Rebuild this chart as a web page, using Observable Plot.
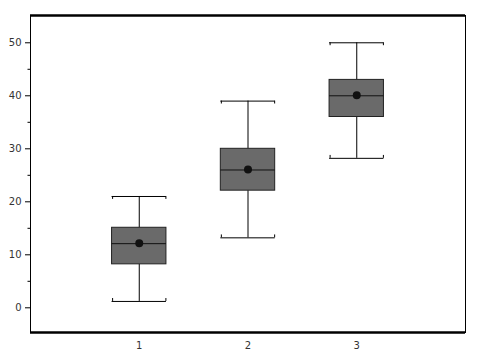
<!DOCTYPE html>
<html><head><meta charset="utf-8">
<script src="https://cdn.jsdelivr.net/npm/d3@7"></script>
<script src="https://cdn.jsdelivr.net/npm/@observablehq/plot@0.6"></script>
<style>body{margin:0;background:#fff}</style>
</head><body><div id="chart"></div>
<script>
const groups = [1, 2, 3];
const lows = [1.2, 13.2, 28.2];
const q1s = [8.2, 22.1, 36.0];
const medians = [12.1, 26.0, 40.0];
const q3s = [15.1, 30.0, 43.0];
const highs = [21.0, 39.0, 50.0];
const means = [12.2, 26.1, 40.1];
const yTicks = [0, 10, 20, 30, 40, 50];
const yMinor = [5, 15, 25, 35, 45];

const data = groups.map((g, i) => ({g, low: lows[i], q1: q1s[i], med: medians[i], q3: q3s[i], high: highs[i], mean: means[i]}));
const hw = 0.25;
const yDom = [-4.66, 55.15];
const serif = 0.55;

const chart = Plot.plot({
  width: 478, height: 359,
  marginLeft: 30, marginRight: 13, marginTop: 15, marginBottom: 27,
  style: {fontFamily: "'DejaVu Sans', sans-serif", fontSize: "10px", color: "#333", background: "#fff"},
  x: {domain: [0, 4], ticks: groups, tickSize: 0, tickPadding: 9, label: null, tickFormat: d3.format("d")},
  y: {domain: yDom, label: null},
  marks: [
    Plot.axisY(yTicks, {tickSize: 5, tickPadding: 4, stroke: "#000", fill: "#333", tickFormat: d3.format("d")}),
    Plot.axisY(yMinor, {tickSize: 2.5, text: null, stroke: "#000", label: null}),
    Plot.axisX(groups, {tickSize: 0, tickPadding: 9, fill: "#333"}),
    Plot.ruleX(data, {x: "g", y1: "low", y2: "q1", stroke: "#000"}),
    Plot.ruleX(data, {x: "g", y1: "q3", y2: "high", stroke: "#000"}),
    Plot.ruleY(data, {y: "high", x1: d => d.g - hw, x2: d => d.g + hw, stroke: "#000"}),
    Plot.ruleY(data, {y: "low", x1: d => d.g - hw, x2: d => d.g + hw, stroke: "#000"}),
    Plot.ruleX(data, {x: d => d.g - hw + 0.005, y1: "high", y2: d => d.high - serif, stroke: "#000"}),
    Plot.ruleX(data, {x: d => d.g + hw - 0.005, y1: "high", y2: d => d.high - serif, stroke: "#000"}),
    Plot.ruleX(data, {x: d => d.g - hw + 0.005, y1: "low", y2: d => d.low + serif, stroke: "#000"}),
    Plot.ruleX(data, {x: d => d.g + hw - 0.005, y1: "low", y2: d => d.low + serif, stroke: "#000"}),
    Plot.rect(data, {x1: d => d.g - hw, x2: d => d.g + hw, y1: "q1", y2: "q3", fill: "#6a6a6a", stroke: "#222", strokeWidth: 1}),
    Plot.ruleY(data, {y: "med", x1: d => d.g - hw, x2: d => d.g + hw, stroke: "#111"}),
    Plot.dot(data, {x: "g", y: "mean", r: 4, fill: "#111", stroke: "none"}),
    Plot.frame({stroke: "#000", strokeWidth: 1}),
    Plot.ruleY([yDom[1]], {stroke: "#000", strokeWidth: 2.5}),
    Plot.ruleY([yDom[0]], {stroke: "#000", strokeWidth: 2.5})
  ]
});
document.getElementById("chart").appendChild(chart);
</script>
</body></html>
